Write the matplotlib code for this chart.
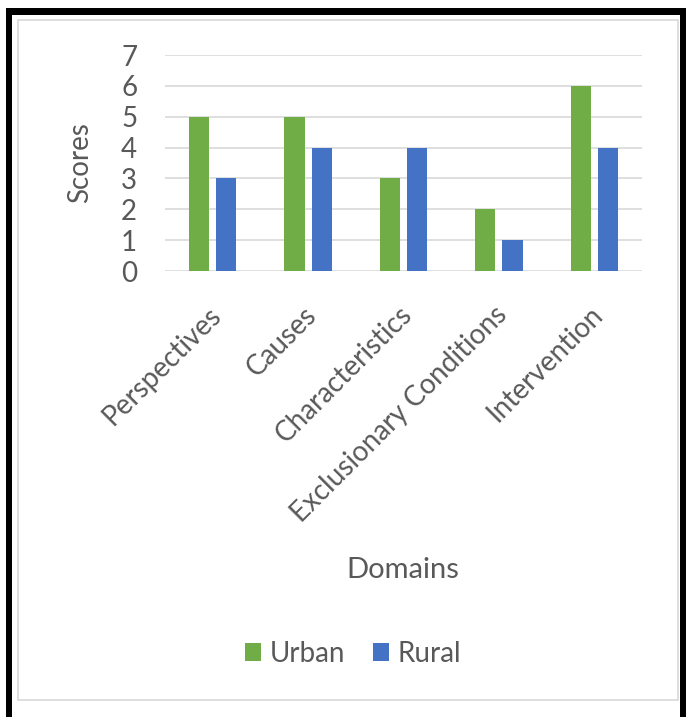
# Grouped bar chart: scores by domain, urban vs rural
import matplotlib
matplotlib.use("Agg")
import matplotlib.pyplot as plt
import matplotlib.transforms as mtransforms
import numpy as np
from matplotlib.patches import Rectangle

domains = ['Perspectives', 'Causes', 'Characteristics',
           'Exclusionary Conditions', 'Intervention']
urban = [5, 5, 3, 2, 6]
rural = [3, 4, 4, 1, 4]

W, H = 686, 717
fig = plt.figure(figsize=(W / 100, H / 100), dpi=100)
plt.rcParams['font.family'] = ['Lato', 'DejaVu Sans']
txt = '#595959'

# frame: black borders and inner light gray box
def px_rect(x0, y0, x1, y1, **kw):
    fig.patches.append(Rectangle((x0 / W, 1 - y1 / H), (x1 - x0) / W, (y1 - y0) / H,
                                 transform=fig.transFigure, figure=fig, **kw))

px_rect(6, 8, 686, 15, facecolor='black', edgecolor='none')
px_rect(6, 8, 12, 717, facecolor='black', edgecolor='none')
px_rect(680, 8, 686, 717, facecolor='black', edgecolor='none')
px_rect(18, 20, 678, 700, facecolor='none', edgecolor='#D9D9D9', linewidth=1.2)

# plot area in pixels
left, right, top, bottom = 165, 642, 55, 271
ax = fig.add_axes([left / W, 1 - bottom / H, (right - left) / W, (bottom - top) / H])

x = np.arange(len(domains))
width = 0.21
gap = 0.075
ax.bar(x - (width + gap) / 2, urban, width, color='#70AD47', label='Urban', zorder=3)
ax.bar(x + (width + gap) / 2, rural, width, color='#4472C4', label='Rural', zorder=3)

ax.set_xlim(-0.5, len(domains) - 0.5)
ax.set_ylim(0, 7)
ax.set_yticks(range(0, 8))
ax.yaxis.grid(True, color='#D9D9D9', linewidth=1.2, zorder=0)
for s in ax.spines.values():
    s.set_visible(False)
ax.tick_params(axis='both', length=0, colors=txt, labelsize=20)
ax.tick_params(axis='y', pad=20)

ax.set_xticks(x)
ax.set_xticklabels(domains, rotation=45, ha='right', va='top',
                   rotation_mode='anchor', fontsize=20, color=txt)
ax.tick_params(axis='x', pad=22)
shift = mtransforms.ScaledTranslation(-5 / 100, 0, fig.dpi_scale_trans)
for lab in ax.get_xticklabels():
    lab.set_transform(lab.get_transform() + shift)

ax.set_ylabel('Scores', fontsize=20, color=txt, labelpad=20)
fig.text(403 / W, 1 - 570 / H, 'Domains', ha='center', va='center',
         fontsize=21, color=txt)

leg = fig.legend(loc='center', bbox_to_anchor=(353 / W, 1 - 654 / H), ncol=2,
                 frameon=False, fontsize=20, handlelength=0.6, handleheight=0.6,
                 handletextpad=0.3, columnspacing=1.0)
for t in leg.get_texts():
    t.set_color(txt)

fig.savefig('out.png', dpi=100, facecolor='white')
